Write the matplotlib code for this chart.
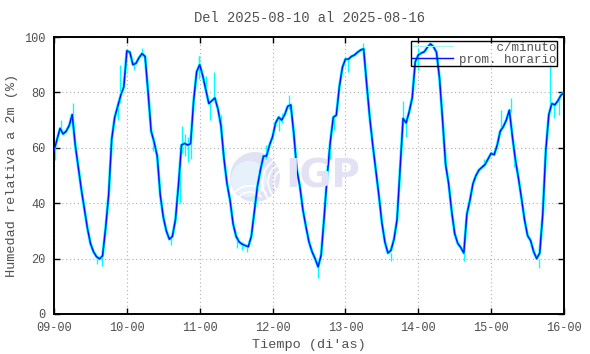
import numpy as np
import matplotlib
matplotlib.use("Agg")
import matplotlib.pyplot as plt
from matplotlib.patches import Circle, Arc
from matplotlib.lines import Line2D

# ---------------- data ----------------
title = "Del 2025-08-10 al 2025-08-16"
xlabel = "Tiempo (di'as)"
ylabel = "Humedad relativa a 2m (%)"
tick_labels = ["09-00", "10-00", "11-00", "12-00", "13-00", "14-00", "15-00", "16-00"]
y_ticks = [0, 20, 40, 60, 80, 100]

# hourly means ("prom. horario"), 24 values per day, plus the closing value
day1 = [59, 63, 67, 65, 66, 68, 72, 61, 53, 45, 38, 31, 25.5, 22.5, 20.7, 19.9, 21, 31, 43, 63, 71, 75, 79, 82]
day2 = [95, 94.5, 90, 90.5, 92.5, 94, 93, 80, 66, 62, 57, 43, 35, 30, 27, 28, 34, 46.5, 61, 61.6, 61, 61.5, 77, 87.5]
day3 = [90, 86, 81, 76, 77, 78, 74, 68, 56, 47, 41, 32.5, 28, 26, 25.2, 24.7, 24.3, 28, 37, 46, 52, 57, 57, 61]
day4 = [64, 69, 71, 70, 72, 75, 75.5, 65, 52, 46, 37.5, 31.5, 26, 22.5, 20, 17, 21.3, 35, 50, 62, 71, 71.8, 82, 89]
day5 = [92, 92, 93, 93.5, 94.5, 95.3, 95.7, 83, 71, 61, 52, 43, 33, 26, 22, 23, 27, 34, 52, 70.6, 69, 73, 78, 91]
day6 = [93.5, 94.2, 94.7, 96.3, 97.5, 96.5, 94.5, 85, 70, 54, 47, 37, 29, 25.5, 24, 22, 36, 41, 47, 50, 52, 53, 54, 56]
day7 = [58, 57.5, 61, 66, 67.6, 70, 73.6, 64, 55.6, 49, 41.7, 34, 28.3, 26.5, 22.5, 20, 22, 36, 59, 72, 76, 75.5, 77, 79]
final_value = [80]

# visible per-minute excursions ("c/minuto"): hour from start, low, high
spike_t  = [0.3, 2.2, 6.4, 14.0, 15.7, 21.2, 21.7,
            26.5, 29.0, 32.5, 38.6, 41.5, 42.2, 43.0, 44.0, 45.0, 47.7,
            47.8, 50.0, 51.3, 52.7, 54.9, 60.4, 62.0, 63.7, 69.7,
            74.0, 75.1, 77.5, 91.0, 92.4, 87.1,
            96.9, 101.8, 115.0, 116.0, 110.9,
            119.8, 128.8, 135.1, 141.7,
            147.1, 150.4, 151.5, 159.7, 163.3, 164.6, 166.2, 167.9]
spike_lo = [55.5, 66, 70, 18, 17.5, 70, 76,
            88, 93, 59, 25, 40, 58, 57, 55, 56, 86,
            85, 80, 70, 77, 66, 24, 23, 22.5, 56,
            66, 69, 74, 56, 66.4, 13,
            87.5, 95, 70, 64, 19,
            88, 55, 19, 53,
            66, 73, 53, 16.5, 73, 70.6, 72, 78]
spike_hi = [60, 70, 76, 21, 21, 77, 90,
            91, 96, 64, 28, 55, 68, 65, 64, 62, 93,
            93, 86, 76, 87.5, 72, 28, 26, 25, 61,
            72, 72.4, 79, 62, 72, 17,
            92, 97.7, 77, 70, 22,
            96, 60, 22, 56,
            73.6, 78, 60, 20, 90, 76, 78, 85.7]

hourly = np.array(day1 + day2 + day3 + day4 + day5 + day6 + day7 + final_value, dtype=float)
t_days = np.arange(len(hourly)) / 24.0

# ---------------- figure ----------------
W, H, DPI = 590, 354, 100
fig = plt.figure(figsize=(W / DPI, H / DPI), dpi=DPI)
ax = fig.add_axes([54 / W, (H - 314) / H, (564 - 54) / W, (314 - 37) / H])

mono = ["Liberation Mono", "DejaVu Sans Mono"]
tcol = "#505050"

# watermark (IGP logo)
cx, cy, r = 255 / DPI, (H - 177) / DPI, 25 / DPI
ax.add_patch(Circle((cx, cy), r, transform=fig.dpi_scale_trans,
                    facecolor="#e1e3f5", edgecolor="none", zorder=0.2))
ax.add_patch(Circle((cx - 0.06, cy - 0.02), r * 0.72, transform=fig.dpi_scale_trans,
                    facecolor="#e6f1fc", edgecolor="none", zorder=0.21))
for rr in [0.9, 1.35, 1.8]:
    ax.add_patch(Arc((cx + 0.30, cy - 0.05), rr * r, rr * r * 1.1, theta1=110, theta2=250,
                     transform=fig.dpi_scale_trans, color="white", lw=1.2, zorder=0.22))
for rr in [1.2, 1.7]:
    ax.add_patch(Arc((cx - 0.05, cy - 0.30), rr * r, rr * r, theta1=40, theta2=140,
                     transform=fig.dpi_scale_trans, color="white", lw=1.2, zorder=0.22))
fig.text(323 / W, (H - 177) / H, "IGP", ha="center", va="center", fontsize=28,
         fontweight="bold", color="#e2e2f4", family="DejaVu Sans", zorder=0.3)

# minute data halo + spikes
ax.plot(t_days, hourly, color="#00ffff", lw=2.1, zorder=2, solid_joinstyle="round")
ax.vlines(np.array(spike_t) / 24.0, spike_lo, spike_hi, color="#00ffff", lw=1.0, zorder=2)
# hourly mean
ax.plot(t_days, hourly, color="#0a10ff", lw=1.05, zorder=3)

ax.set_xlim(0, 7)
ax.set_ylim(0, 100)
ax.set_xticks(np.arange(len(tick_labels)))
ax.set_xticklabels(tick_labels)
ax.set_yticks(y_ticks)

ax.grid(True, color="#b0b0b0", lw=0.8, linestyle=(0, (1, 2.5)), zorder=1)
ax.tick_params(axis="both", direction="in", length=4.5, width=1.0, color="black",
               top=True, right=True, labelsize=8.6, labelcolor=tcol)
ax.tick_params(axis="x", pad=6)
ax.tick_params(axis="y", pad=6)
for lab in ax.get_xticklabels() + ax.get_yticklabels():
    lab.set_family(mono)
for s in ax.spines.values():
    s.set_linewidth(1.4)
    s.set_color("black")

fig.text(0.5 * (54 + 564) / W, (H - 18) / H, title, ha="center", va="center",
         fontsize=9.9, color=tcol, family=mono)
fig.text(0.5 * (54 + 564) / W, (H - 345) / H, xlabel, ha="center", va="center",
         fontsize=9.7, color=tcol, family=mono)
fig.text(12 / W, (H - 0.5 * (37 + 314)) / H, ylabel, ha="center", va="center",
         rotation=90, fontsize=9.7, color=tcol, family=mono)

handles = [Line2D([], [], color="#a8f4f4", lw=0.8),
           Line2D([], [], color="#0a10ff", lw=1.05)]
leg = ax.legend(handles, ["     c/minuto", "prom. horario"],
                loc="upper right", bbox_to_anchor=(557 / W, (H - 41) / H),
                bbox_transform=fig.transFigure, frameon=True, fancybox=False,
                edgecolor="black", borderpad=0.05, labelspacing=0.0,
                handlelength=3.3, handletextpad=0.45, borderaxespad=0,
                prop={"family": mono, "size": 9})
frame = leg.get_frame()
frame.set_facecolor("none")
frame.set_edgecolor("black")
frame.set_alpha(None)
frame.set_linewidth(1.0)
for tx in leg.get_texts():
    tx.set_color(tcol)

fig.savefig("out.png", dpi=DPI)
